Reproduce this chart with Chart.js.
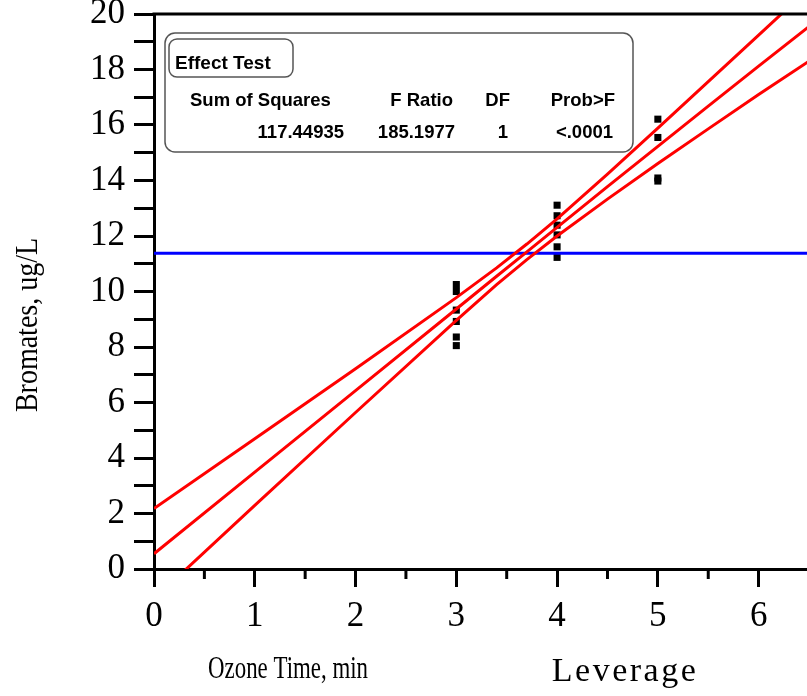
<!DOCTYPE html>
<html>
<head>
<meta charset="utf-8">
<script src="https://cdn.jsdelivr.net/npm/chart.js@4/dist/chart.umd.min.js"></script>
<style>
  html, body { margin: 0; padding: 0; background: #fff; }
  canvas { display: block; }
</style>
</head>
<body>
<canvas id="chart" width="807" height="696"></canvas>
<script>
// values
const xTicks = [0, 1, 2, 3, 4, 5, 6];
const xMinorTicks = [0.5, 1.5, 2.5, 3.5, 4.5, 5.5, 6.5];
const fitX = [0, 1, 2, 3, 3.4, 3.7, 4, 4.5, 5, 5.5, 6, 6.5];
const fitMid = [0.55, 3.49, 6.43, 9.37, 10.55, 11.43, 12.31, 13.78, 15.23, 16.68, 18.12, 19.55];
const fitUpper = [2.18, 4.69, 7.22, 9.78, 10.85, 11.71, 12.62, 14.23, 15.89, 17.56, 19.24, 20.92];
const fitLower = [-1.08, 2.29, 5.64, 8.96, 10.25, 11.15, 12.00, 13.33, 14.61, 15.86, 17.10, 18.30];
const obsX = [3, 3, 3, 3, 3, 3, 4, 4, 4, 4, 4, 4, 5, 5, 5, 5];
const obsY = [10.25, 10.0, 9.33, 8.92, 8.36, 8.05, 13.11, 12.73, 12.39, 12.04, 11.61, 11.23, 16.21, 15.55, 14.09, 13.98];
const meanY = 11.38;
const meanX = [0, 6.5];

const testHeaders = ['Sum of Squares', 'F Ratio', 'DF', 'Prob>F'];
const testValues = ['117.44935', '185.1977', '1', '<.0001'];

const serif = '"Liberation Serif", "Times New Roman", serif';
const sans = '"Liberation Sans", Arial, sans-serif';

function pairs(xs, ys) {
    return xs.map((x, i) => ({ x: x, y: ys[i] }));
}

function roundRect(ctx, x, y, w, h, r) {
    ctx.beginPath();
    ctx.moveTo(x + r, y);
    ctx.lineTo(x + w - r, y);
    ctx.arcTo(x + w, y, x + w, y + r, r);
    ctx.lineTo(x + w, y + h - r);
    ctx.arcTo(x + w, y + h, x + w - r, y + h, r);
    ctx.lineTo(x + r, y + h);
    ctx.arcTo(x, y + h, x, y + h - r, r);
    ctx.lineTo(x, y + r);
    ctx.arcTo(x, y, x + r, y, r);
    ctx.closePath();
}

// centred text squeezed/stretched to a given width
function fitText(ctx, text, cx, cy, width) {
    const w = ctx.measureText(text).width;
    ctx.save();
    ctx.translate(cx, cy);
    ctx.scale(width / w, 1);
    ctx.fillText(text, 0, 0);
    ctx.restore();
}

const decorations = {
    id: 'decorations',
    afterDraw(chart) {
        const ctx = chart.ctx;
        const area = chart.chartArea;
        const xs = chart.scales.x;
        ctx.save();

        // top frame line
        ctx.strokeStyle = '#000';
        ctx.lineWidth = 3;
        ctx.beginPath();
        ctx.moveTo(area.left - 1.5, area.top);
        ctx.lineTo(area.right, area.top);
        ctx.stroke();

        // minor x ticks
        xMinorTicks.forEach(v => {
            const px = xs.getPixelForValue(v);
            if (px > area.right) return;
            ctx.beginPath();
            ctx.moveTo(px, area.bottom);
            ctx.lineTo(px, area.bottom + 10);
            ctx.stroke();
        });

        // axis titles
        ctx.fillStyle = '#000';
        ctx.textAlign = 'center';
        ctx.textBaseline = 'middle';
        ctx.font = '32px ' + serif;
        fitText(ctx, 'Ozone Time, min', 288, 670, 160);
        ctx.save();
        ctx.font = '34px ' + serif;
        ctx.letterSpacing = '2.5px';
        ctx.fillText('Leverage', 625, 672);
        ctx.restore();

        ctx.save();
        ctx.translate(29, 325);
        ctx.rotate(-Math.PI / 2);
        ctx.scale(1, 1.15);
        ctx.font = '28px ' + serif;
        ctx.fillText('Bromates, ug/L', 0, 0);
        ctx.restore();

        // Effect Test box
        ctx.fillStyle = '#fff';
        ctx.strokeStyle = '#555';
        ctx.lineWidth = 1.5;
        roundRect(ctx, 165, 33, 468, 119, 10);
        ctx.fill();
        ctx.stroke();
        roundRect(ctx, 169, 39, 124, 38, 8);
        ctx.stroke();

        ctx.fillStyle = '#000';
        ctx.textBaseline = 'alphabetic';
        ctx.textAlign = 'left';
        ctx.font = 'bold 19px ' + sans;
        ctx.fillText('Effect Test', 175, 69);

        ctx.font = 'bold 18.5px ' + sans;
        ctx.fillText(testHeaders[0], 190, 106);
        ctx.textAlign = 'right';
        const headRight = [453, 510, 615];
        for (let i = 1; i < testHeaders.length; i++) {
            ctx.fillText(testHeaders[i], headRight[i - 1], 106);
        }
        const valRight = [344, 455, 508, 613];
        testValues.forEach((t, i) => ctx.fillText(t, valRight[i], 138));

        ctx.restore();
    }
};

new Chart(document.getElementById('chart'), {
    type: 'scatter',
    data: {
        datasets: [
            {
                type: 'line',
                data: pairs(fitX, fitUpper),
                borderColor: '#ff0000',
                borderWidth: 3,
                pointRadius: 0,
                fill: false
            },
            {
                type: 'line',
                data: pairs(fitX, fitMid),
                borderColor: '#ff0000',
                borderWidth: 3,
                pointRadius: 0,
                fill: false
            },
            {
                type: 'line',
                data: pairs(fitX, fitLower),
                borderColor: '#ff0000',
                borderWidth: 3,
                pointRadius: 0,
                fill: false
            },
            {
                type: 'line',
                data: pairs(meanX, [meanY, meanY]),
                borderColor: '#0000ff',
                borderWidth: 3,
                pointRadius: 0,
                fill: false
            },
            {
                data: pairs(obsX, obsY),
                pointStyle: 'rect',
                pointRadius: 5,
                borderWidth: 0,
                backgroundColor: '#000'
            }
        ]
    },
    options: {
        responsive: false,
        animation: false,
        devicePixelRatio: 1,
        layout: { autoPadding: false, padding: { top: 14, right: 0, bottom: 0, left: 0 } },
        plugins: {
            legend: { display: false },
            tooltip: { enabled: false }
        },
        scales: {
            x: {
                type: 'linear',
                min: 0,
                max: 6.48,
                afterBuildTicks(scale) {
                    scale.ticks = xTicks.map(v => ({ value: v }));
                },
                afterFit(scale) {
                    scale.height = 127;
                    scale.paddingLeft = 0;
                    scale.paddingRight = 0;
                },
                grid: {
                    drawOnChartArea: false,
                    drawTicks: true,
                    tickLength: 18,
                    tickWidth: 3,
                    tickColor: '#000'
                },
                border: { display: true, color: '#000', width: 3 },
                ticks: {
                    color: '#000',
                    padding: 9,
                    maxRotation: 0,
                    autoSkip: false,
                    font: { family: serif, size: 35 }
                }
            },
            y: {
                type: 'linear',
                min: 0,
                max: 20,
                afterFit(scale) {
                    scale.width = 154;
                    scale.paddingTop = 0;
                    scale.paddingBottom = 0;
                },
                grid: {
                    drawOnChartArea: false,
                    drawTicks: true,
                    tickLength: 20,
                    tickWidth: 3,
                    tickColor: '#000'
                },
                border: { display: true, color: '#000', width: 3 },
                ticks: {
                    stepSize: 1,
                    autoSkip: false,
                    color: '#000',
                    padding: 9,
                    font: { family: serif, size: 35 },
                    callback: v => (v % 2 === 0 ? String(v) : '')
                }
            }
        }
    },
    plugins: [decorations]
});
</script>
</body>
</html>
